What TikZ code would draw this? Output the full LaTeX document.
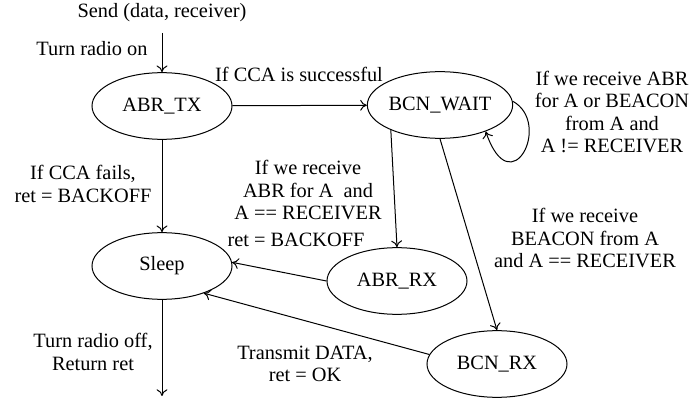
\documentclass[tikz,border=0pt]{standalone}
\usepackage{fontspec}
\setmainfont{Liberation Serif}
\usetikzlibrary{shapes.geometric,arrows.meta}
\begin{document}
\begin{tikzpicture}[x=0.6pt,y=-0.6pt,
  >={To[length=4pt,width=6.5pt]},
  txt/.style={font=\fontsize{12.2}{13.3}\selectfont},
  state/.style={draw, ellipse, minimum width=84pt, minimum height=40pt, inner sep=0pt, txt},
  lbl/.style={align=center, inner sep=0pt, txt},
  conn/.style={->, line width=0.6pt},
  every path/.append style={line width=0.6pt}]
\useasboundingbox (0,0) rectangle (691,402);
% states
\node[state] (tx) at (162,106) {ABR\_TX};
\node[state] (bw) at (440,105) {BCN\_WAIT};
\node[state] (sl) at (162,266) {Sleep};
\node[state] (ar) at (397,281) {ABR\_RX};
\node[state] (bx) at (497,364) {BCN\_RX};
% free ends
\node[lbl] (send) at (162,13) {Send (data, receiver)};
\coordinate (st) at (162,33);
\coordinate (en) at (162,396);
% connectors
\draw[conn] (st) -- (tx);
\node[lbl, anchor=east] (lon) at (148,49) {Turn radio on};
\draw[conn] (tx) -- (bw);
\node[lbl] (lcca) at (299,74) {If CCA is successful};
\draw[conn] (tx) -- (sl);
\node[lbl] (lfail) at (83,184) {If CCA fails,\\ret = BACKOFF};
\draw[conn] (bw.207) -- (ar.north);
\node[lbl] (labr) at (308,190) {If we receive\\ABR for A\enspace and\\A == RECEIVER};
\draw[conn] (ar.west) -- (sl.3);
\node[lbl] (lbk) at (296,240) {ret = BACKOFF};
\draw[conn] (bw.south) -- (bx.north);
\node[lbl] (lbcn) at (585,238) {If we receive\\BEACON from A\\and A == RECEIVER};
\draw[conn] (bx.172) -- (sl.-33);
\node[lbl] (ltx) at (305,364) {Transmit DATA,\\ret = OK};
\draw[conn] (sl) -- (en);
\node[lbl] (loff) at (93,352) {Turn radio off,\\Return ret};
\draw[conn] (bw.3) .. controls +(40,22) and +(25,74) .. (bw.-30);
\node[lbl] (lloop) at (612,112) {If we receive ABR\\for A or BEACON\\from A and\\A != RECEIVER};
\end{tikzpicture}
\end{document}
